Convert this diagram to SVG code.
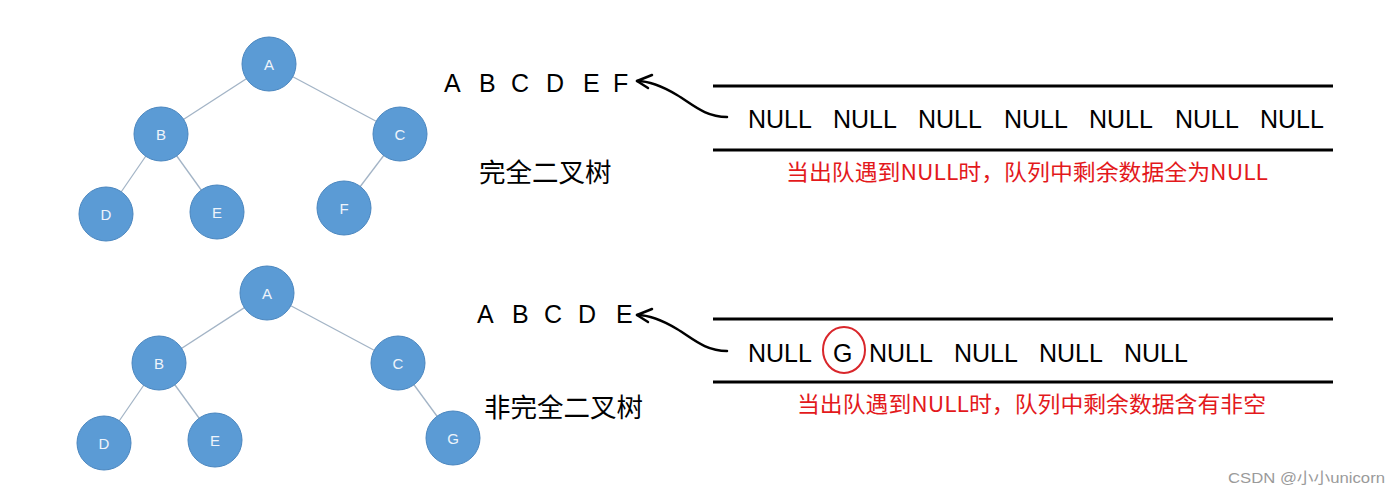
<svg xmlns="http://www.w3.org/2000/svg" width="1400" height="498" viewBox="0 0 1400 498">
  <style>
    .edge { stroke: #a3b4c6; stroke-width: 1.3; fill: none; }
    .node circle { fill: #5b9bd5; stroke: #4a86bf; stroke-width: 1; }
    .node text { fill: #eef4fb; font-family: "Liberation Sans", Arial, sans-serif; font-size: 15px; text-anchor: middle; dominant-baseline: central; }
    .seq { fill: #000; font-family: "Liberation Sans", Arial, sans-serif; font-size: 25px; }
    .cn { fill: #000; font-family: "Noto Sans CJK SC", "Noto Sans", sans-serif; font-size: 26.5px; }
    .red { fill: #e3191c; font-family: "Noto Sans CJK SC", "Noto Sans", sans-serif; font-size: 22px; }
    .rule { stroke: #000; stroke-width: 3; }
    .arrow { stroke: #000; stroke-width: 2.5; fill: none; stroke-linecap: round; stroke-linejoin: round; }
  </style>
  <rect width="1400" height="498" fill="#ffffff"/>

  <g id="connectors">
    <line class="edge" x1="269" y1="64" x2="161" y2="134"/>
    <line class="edge" x1="269" y1="64" x2="400" y2="134"/>
    <line class="edge" x1="161" y1="134" x2="106" y2="214"/>
    <line class="edge" x1="161" y1="134" x2="217" y2="212"/>
    <line class="edge" x1="400" y1="134" x2="344" y2="208"/>
    <line class="edge" x1="267" y1="293" x2="159" y2="363"/>
    <line class="edge" x1="267" y1="293" x2="398" y2="363"/>
    <line class="edge" x1="159" y1="363" x2="104" y2="443"/>
    <line class="edge" x1="159" y1="363" x2="215" y2="440"/>
    <line class="edge" x1="398" y1="363" x2="453" y2="438"/>
    <path class="arrow" d="M727,117 C705,117 692,104 677,95 C662,86 650,81 637,81"/>
    <polyline class="arrow" points="652,75 637,81 648,88"/>
    <path class="arrow" d="M727,351 C705,351 692,338 677,329 C662,320 650,315 637,315"/>
    <polyline class="arrow" points="652,309 637,315 648,322"/>
  </g>

  <g id="t1-A" class="node"><circle cx="269" cy="64" r="27"/><text x="269" y="64">A</text></g>
  <g id="t1-B" class="node"><circle cx="161" cy="134" r="27"/><text x="161" y="134">B</text></g>
  <g id="t1-C" class="node"><circle cx="400" cy="134" r="27"/><text x="400" y="134">C</text></g>
  <g id="t1-D" class="node"><circle cx="106" cy="214" r="27"/><text x="106" y="214">D</text></g>
  <g id="t1-E" class="node"><circle cx="217" cy="212" r="27"/><text x="217" y="212">E</text></g>
  <g id="t1-F" class="node"><circle cx="344" cy="208" r="27"/><text x="344" y="208">F</text></g>

  <g id="t2-A" class="node"><circle cx="267" cy="293" r="27"/><text x="267" y="293">A</text></g>
  <g id="t2-B" class="node"><circle cx="159" cy="363" r="27"/><text x="159" y="363">B</text></g>
  <g id="t2-C" class="node"><circle cx="398" cy="363" r="27"/><text x="398" y="363">C</text></g>
  <g id="t2-D" class="node"><circle cx="104" cy="443" r="27"/><text x="104" y="443">D</text></g>
  <g id="t2-E" class="node"><circle cx="215" cy="440" r="27"/><text x="215" y="440">E</text></g>
  <g id="t2-G" class="node"><circle cx="453" cy="438" r="27"/><text x="453" y="438">G</text></g>

  <g id="seq1">
    <text class="seq" x="444 479 511 546 583 613" y="92">ABCDEF</text>
  </g>
  <text class="cn" x="479" y="182">完全二叉树</text>

  <g id="queue1">
    <line class="rule" x1="713" y1="86" x2="1333" y2="86"/>
    <line class="rule" x1="713" y1="150" x2="1333" y2="150"/>
    <text class="seq" y="128">
      <tspan x="748">NULL</tspan><tspan x="833">NULL</tspan><tspan x="918">NULL</tspan><tspan x="1004">NULL</tspan><tspan x="1089">NULL</tspan><tspan x="1175">NULL</tspan><tspan x="1260">NULL</tspan>
    </text>
    <text class="red" x="786" y="180" textLength="482" lengthAdjust="spacingAndGlyphs">当出队遇到NULL时，队列中剩余数据全为NULL</text>
  </g>

  <g id="seq2">
    <text class="seq" x="477 512 544 578 616" y="323">ABCDE</text>
  </g>
  <text class="cn" x="484" y="417">非完全二叉树</text>

  <g id="queue2">
    <line class="rule" x1="713" y1="319" x2="1333" y2="319"/>
    <line class="rule" x1="713" y1="382" x2="1333" y2="382"/>
    <text class="seq" y="362">
      <tspan x="748">NULL</tspan><tspan x="833">G</tspan><tspan x="869">NULL</tspan><tspan x="954">NULL</tspan><tspan x="1039">NULL</tspan><tspan x="1124">NULL</tspan>
    </text>
    <ellipse cx="844" cy="350" rx="21" ry="23" fill="none" stroke="#d9262b" stroke-width="2"/>
    <text class="red" x="797" y="412" textLength="469" lengthAdjust="spacingAndGlyphs">当出队遇到NULL时，队列中剩余数据含有非空</text>
  </g>

  <text x="1228" y="483" fill="#9a9a9a" font-family="Liberation Sans, Arial, 'Noto Sans CJK SC', sans-serif" font-size="15" textLength="157" lengthAdjust="spacingAndGlyphs">CSDN @小小unicorn</text>
</svg>
